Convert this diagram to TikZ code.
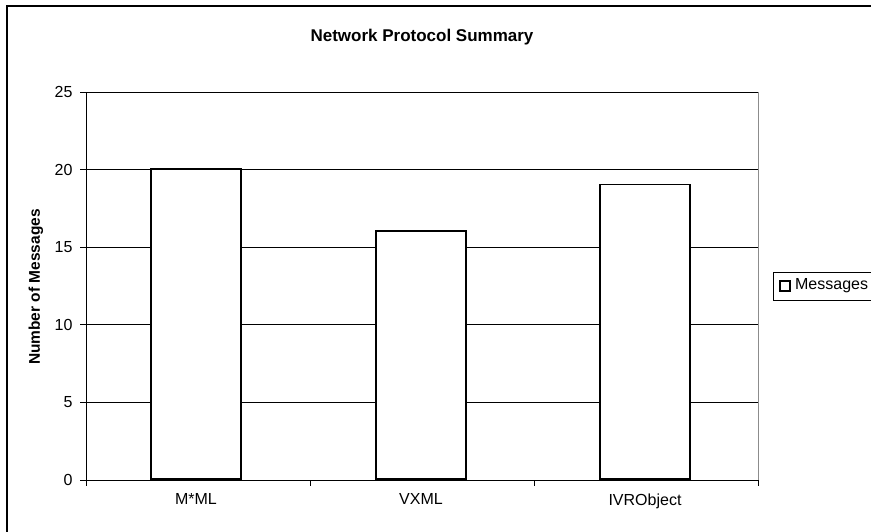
\documentclass[tikz,border=0pt]{standalone}
\usepackage{fontspec}
\setmainfont{Liberation Sans}
\definecolor{CHARTgray}{HTML}{8C8C8C}
\usetikzlibrary{positioning}

\begin{document}
\begin{tikzpicture}[x=1pt, y=-1pt, font=\fontsize{16}{19}\selectfont,
    bar/.style={draw, fill=white, line width=1.6pt, minimum width=90pt, anchor=south, inner sep=0pt},
    catlabel/.style={below=10pt of #1}]
      \useasboundingbox (0,0) rectangle (871,531);
      % Outer frame
      \draw[line width=1.1pt] (7,6) rectangle (900,560);
      % Title
      \node[font=\bfseries\fontsize{17}{20}\selectfont] (title) at (422,37) {Network Protocol Summary};
      % Grid lines and value ticks (1 message = 15.52pt)
      \foreach \v in {0,5,...,25} {
         \draw[line width=0.7pt] (80,480-15.52*\v) -- (758,480-15.52*\v);
         \node[anchor=east] (tick\v) at (76,480-15.52*\v) {\v};
      }
      % Axes
      \draw[line width=0.9pt] (86,92) -- (86,480) -- (758,480);
      \draw[CHARTgray, line width=0.9pt] (758,92) -- (758,480);
      \foreach \x in {86,310,534,758}
         \draw[line width=0.9pt] (\x,480) -- (\x,486);
      \node[rotate=90, font=\bfseries\fontsize{15.5}{18}\selectfont] (ylabel) at (36,287) {Number of Messages};
      % Bars
      \node[bar, minimum height=310.4pt] (mml) at (196,480) {};
      \node[bar, minimum height=248.3pt] (vxml) at (421,480) {};
      \node[bar, minimum height=294.9pt] (ivr) at (645,480) {};
      % Category labels
      \node[catlabel=mml.south] (mmllabel) {M*ML};
      \node[catlabel=vxml.south] (vxmllabel) {VXML};
      \node[catlabel=ivr.south] (ivrlabel) {IVRObject};
      % Legend
      \draw[line width=0.7pt] (773,272) rectangle (900,300);
      \node[draw, line width=1.2pt, minimum size=10pt, inner sep=0pt] (legmark) at (785,286) {};
      \node[right=1pt of legmark] (legtext) {Messages};
   \end{tikzpicture}
\end{document}
